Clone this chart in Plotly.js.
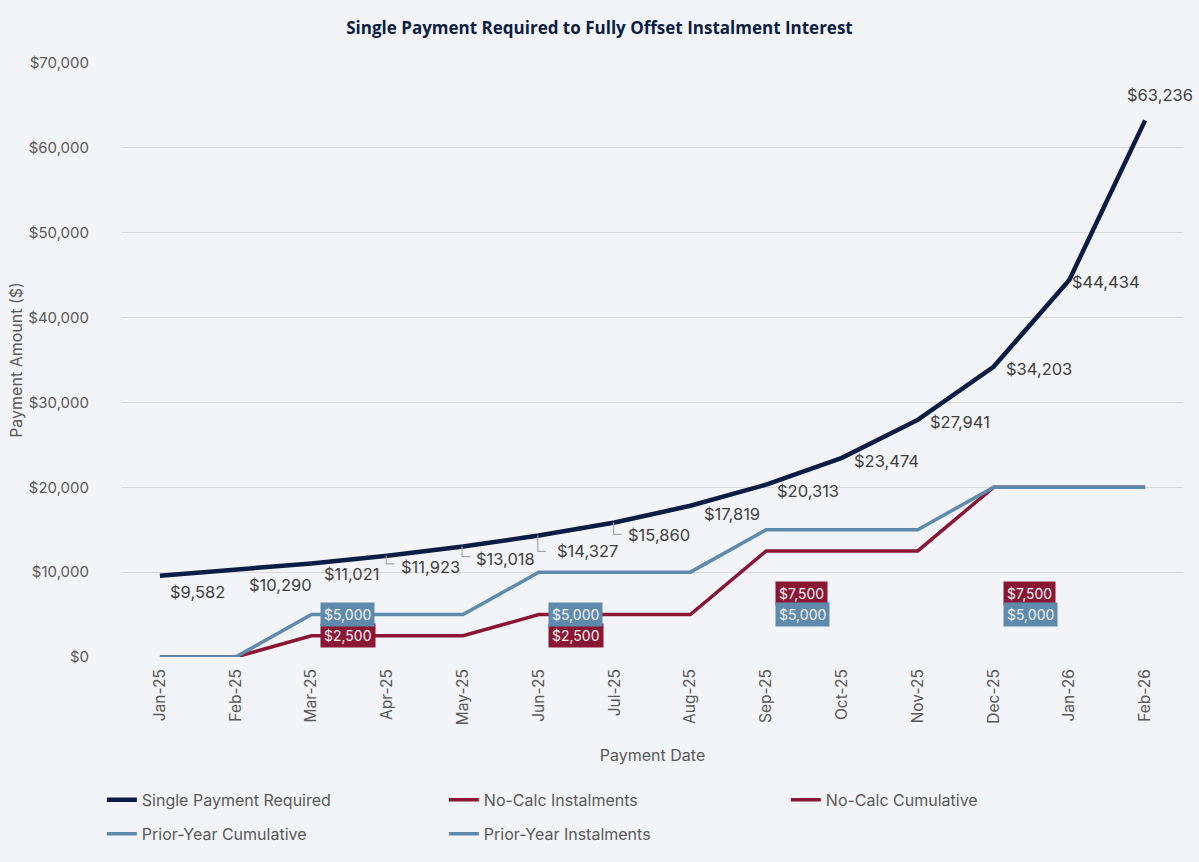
<!DOCTYPE html>
<html>
<head>
<meta charset="utf-8">
<script src="https://cdn.plot.ly/plotly-3.0.1.min.js"></script>
<style>
  html, body { margin: 0; padding: 0; background: #F2F4F7; }
  #chart { width: 1199px; height: 862px; }
</style>
</head>
<body>
<div id="chart"></div>
<script>
const months = ["Jan-25","Feb-25","Mar-25","Apr-25","May-25","Jun-25","Jul-25","Aug-25","Sep-25","Oct-25","Nov-25","Dec-25","Jan-26","Feb-26"];
const singlePayment = [9582, 10290, 11021, 11923, 13018, 14327, 15860, 17819, 20313, 23474, 27941, 34203, 44434, 63236];
const noCalcInstalments = [null, null, 2500, null, null, 2500, null, null, 7500, null, null, 7500, null, null];
const noCalcCumulative = [0, 0, 2500, 2500, 2500, 5000, 5000, 5000, 12500, 12500, 12500, 20000, 20000, 20000];
const priorYearCumulative = [0, 0, 5000, 5000, 5000, 10000, 10000, 10000, 15000, 15000, 15000, 20000, 20000, 20000];
const priorYearInstalments = [null, null, 5000, null, null, 5000, null, null, 5000, null, null, 5000, null, null];
const yTicks = [0, 10000, 20000, 30000, 40000, 50000, 60000, 70000];

const NAVY = "#0B1D45", RED = "#8A1634", BLUE = "#5E8BAD", GREY = "#595959";
const FONT = "Inter, 'Open Sans', sans-serif";
const fmt = v => "$" + v.toLocaleString("en-US");

// label offsets (pixels) for the Single Payment labels
const spDx = [8, 11, 11, 12, 11, 16, 11, 12, 9, 10, 10, 10, 1, -20];
const spDy = [-16, -15, -11, -11, -12, -16, -13, -8, -6, -3, -2, -2, -2, 25];
// leader-line lengths (pixels) for labels that have one
const leaderLen = [0, 0, 0, 8, 10, 16, 12, 0, 0, 0, 0, 0, 0, 0];

const traces = [
  {name: "Single Payment Required", x: months, y: singlePayment, type: "scatter", mode: "lines",
   line: {color: NAVY, width: 4.5}, legend: "legend"},
  {name: "No-Calc Instalments", x: months, y: noCalcInstalments, type: "scatter", mode: "lines",
   connectgaps: false, line: {color: RED, width: 3.5}, legend: "legend"},
  {name: "No-Calc Cumulative", x: months, y: noCalcCumulative, type: "scatter", mode: "lines",
   line: {color: RED, width: 3.5}, legend: "legend"},
  {name: "Prior-Year Cumulative", x: months, y: priorYearCumulative, type: "scatter", mode: "lines",
   line: {color: BLUE, width: 3.5}, legend: "legend2"},
  {name: "Prior-Year Instalments", x: months, y: priorYearInstalments, type: "scatter", mode: "lines",
   connectgaps: false, line: {color: BLUE, width: 3.5}, legend: "legend2"}
];

const annotations = [];
const shapes = [];
singlePayment.forEach((v, i) => {
  annotations.push({x: months[i], y: v, xref: "x", yref: "y", text: fmt(v), showarrow: false,
    xanchor: "left", yanchor: "middle", xshift: spDx[i], yshift: spDy[i],
    font: {family: FONT, size: 16.5, color: "#404040"}});
  if (leaderLen[i] > 0) {
    shapes.push({type: "path", xref: "x", yref: "y", xsizemode: "pixel", ysizemode: "pixel",
      xanchor: months[i], yanchor: v,
      path: `M -1,0 L -1,${-leaderLen[i]} L 7,${-leaderLen[i]}`,
      line: {color: "#A6A6A6", width: 1.2}});
  }
});
function boxLabels(arr, color) {
  arr.forEach((v, i) => {
    if (v === null) return;
    annotations.push({x: months[i], y: v, xref: "x", yref: "y", text: fmt(v), showarrow: false,
      xanchor: "left", yanchor: "middle", xshift: 9, bgcolor: color, borderpad: 3,
      font: {family: FONT, size: 14, color: "#F2F2F2"}});
  });
}
boxLabels(noCalcInstalments, RED);
boxLabels(priorYearInstalments, BLUE);

const legendBase = {orientation: "h", x: -0.019, xanchor: "left", yanchor: "top",
  entrywidth: 297, entrywidthmode: "pixels", itemwidth: 30, tracegroupgap: 0,
  font: {family: FONT, size: 16, color: GREY}, bgcolor: "rgba(0,0,0,0)"};

const layout = {
  width: 1199, height: 862,
  paper_bgcolor: "#F2F4F7", plot_bgcolor: "#F2F4F7",
  margin: {l: 122, r: 16, t: 63, b: 205, autoexpand: false},
  title: {text: "Single Payment Required to Fully Offset Instalment Interest",
    font: {family: "'Open Sans', sans-serif", size: 17, color: "#0B1D45", weight: "bold"},
    x: 0.5, xanchor: "center", y: 0.968, yanchor: "middle"},
  xaxis: {type: "category", range: [-0.5, 13.5], tickangle: -90, showgrid: false, zeroline: false, showline: false,
    ticks: "", ticklabelstandoff: 8, automargin: false,
    tickfont: {family: FONT, size: 15.5, color: GREY},
    title: {text: "Payment Date", font: {family: FONT, size: 16, color: GREY}, standoff: 25}},
  yaxis: {range: [0, 70000], tickvals: yTicks, ticktext: yTicks.map(fmt), automargin: false,
    showgrid: true, gridcolor: "#D9D9D9", gridwidth: 1.2, zeroline: false, showline: false,
    ticks: "", ticklabelstandoff: 32,
    tickfont: {family: FONT, size: 15, color: GREY},
    title: {text: "Payment Amount ($)", font: {family: FONT, size: 16, color: GREY}, standoff: 1}},
  showlegend: true,
  legend: Object.assign({}, legendBase, {y: -0.212}),
  legend2: Object.assign({}, legendBase, {y: -0.269}),
  annotations: annotations,
  shapes: shapes
};

Plotly.newPlot("chart", traces, layout, {displayModeBar: false, staticPlot: true});
</script>
</body>
</html>
